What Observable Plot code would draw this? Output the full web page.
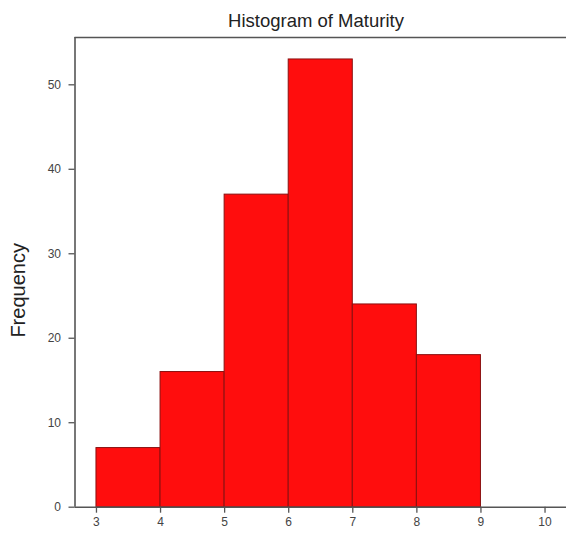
<!DOCTYPE html>
<html>
<head>
<meta charset="utf-8">
<script src="https://cdn.jsdelivr.net/npm/d3@7"></script>
<script src="https://cdn.jsdelivr.net/npm/@observablehq/plot@0.6"></script>
<style>
  html, body { margin: 0; padding: 0; background: #fff; }
  svg { display: block; }
</style>
</head>
<body>
<div id="chart"></div>
<script>
const titleText = "Histogram of Maturity";
const yLabel = "Frequency";
const binStart = [3, 4, 5, 6, 7, 8];
const binEnd = [4, 5, 6, 7, 8, 9];
const counts = [7, 16, 37, 53, 24, 18];
const xTicks = [3, 4, 5, 6, 7, 8, 9, 10];
const yTicks = [0, 10, 20, 30, 40, 50];
const xDomain = [2.665, 10.335];
const yDomain = [0, 55.6];

const bins = binStart.map((s, i) => ({x1: s, x2: binEnd[i], y: counts[i]}));
const font = "Liberation Sans, Arial, sans-serif";
const axisColor = "#555";

const chart = Plot.plot({
  width: 566,
  height: 537,
  marginLeft: 74.5,
  marginRight: 0,
  marginTop: 37,
  marginBottom: 30.3,
  style: {fontFamily: font, background: "#fff", overflow: "visible"},
  x: {domain: xDomain, ticks: xTicks, tickFormat: d => String(d)},
  y: {domain: yDomain, ticks: yTicks, tickFormat: d => String(d)},
  marks: [
    Plot.rectY(bins, {x1: "x1", x2: "x2", y: "y", fill: "#ff0d0d", stroke: "#8a1010", strokeWidth: 1}),
    Plot.ruleX([xDomain[0]], {stroke: axisColor, strokeWidth: 1.6}),
    Plot.ruleY([yDomain[0]], {stroke: axisColor, strokeWidth: 1.6}),
    Plot.ruleY([yDomain[1]], {stroke: axisColor, strokeWidth: 1.6}),
    Plot.axisX({ticks: xTicks, tickSize: 6, tickPadding: 4, fontSize: 12, color: "#444", stroke: axisColor, strokeWidth: 1.3, label: null, tickFormat: d => String(d)}),
    Plot.axisY({ticks: yTicks, tickSize: 6, tickPadding: 8, fontSize: 12, color: "#444", stroke: axisColor, strokeWidth: 1.3, label: null, tickFormat: d => String(d)}),
    Plot.text([titleText], {frameAnchor: "top", lineAnchor: "top", dx: -4.75, dy: -23.4, fontSize: 18.5, fill: "#222", fontFamily: font, style: "word-spacing:-4px"}),
    Plot.text([yLabel], {frameAnchor: "left", textAnchor: "middle", rotate: -90, dx: -56, dy: 18, fontSize: 20, fill: "#222", fontFamily: font})
  ]
});
document.getElementById("chart").appendChild(chart);
</script>
</body>
</html>
